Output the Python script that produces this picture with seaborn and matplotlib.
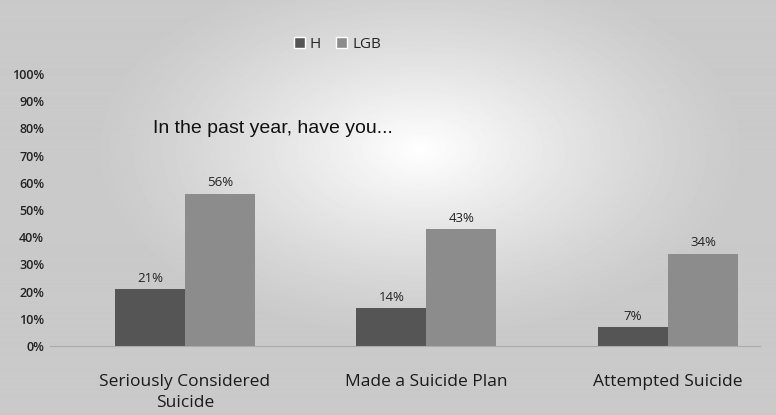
import numpy as np
import pandas as pd
import matplotlib
matplotlib.use("Agg")
import matplotlib.pyplot as plt
import seaborn as sns
from matplotlib.patches import Patch

categories = ["Seriously Considered\nSuicide", "Made a Suicide Plan", "Attempted Suicide"]
groups = ["H", "LGB"]
h_values = [21, 14, 7]
lgb_values = [56, 43, 34]
y_ticks = [0, 10, 20, 30, 40, 50, 60, 70, 80, 90, 100]
y_tick_labels = [f"{t}%" for t in y_ticks]

df = pd.DataFrame({
    "category": categories * 2,
    "group": ["H"] * 3 + ["LGB"] * 3,
    "value": h_values + lgb_values,
})

sns.set_theme(style="white")
plt.rcParams['font.family'] = ['Open Sans', 'DejaVu Sans']

fig = plt.figure(figsize=(7.76, 4.15), dpi=100)
fig.patch.set_facecolor("#c9c9c9")

# background glow
bg = fig.add_axes([0, 0, 1, 1], zorder=0)
yy, xx = np.mgrid[0:415, 0:776]
r = np.sqrt(((xx - 420) / 330.0) ** 2 + ((yy - 150) / 190.0) ** 2)
glow = np.clip(1 - r, 0, 1) ** 1.2
img = 0.79 + 0.21 * glow
bg.imshow(img, cmap="gray", vmin=0, vmax=1, aspect="auto", extent=[0, 776, 415, 0])
bg.axis("off")

ax = fig.add_axes([0.064, 0.166, 0.915, 0.656], zorder=1)
ax.patch.set_alpha(0)
sns.barplot(data=df, x="category", y="value", hue="group", hue_order=groups,
            palette={"H": "#555555", "LGB": "#8c8c8c"}, width=0.58,
            saturation=1, ax=ax, legend=False, linewidth=0, edgecolor="none")

for cont in ax.containers:
    ax.bar_label(cont, labels=[f"{int(round(v.get_height()))}%" for v in cont],
                 padding=3, fontsize=9.5, color="#222222")

ax.set_ylim(0, 100)
ax.set_xlim(-0.56, 2.38)
ax.set_yticks(y_ticks)
ax.set_yticklabels(y_tick_labels, fontsize=9, color="#222222", fontweight="semibold")
ax.tick_params(axis="x", labelsize=12.5, colors="#1a1a1a", length=0, pad=20)
for lbl in ax.get_xticklabels():
    lbl.set_linespacing(1.45)
    lbl.set_fontweight("medium")
ax.tick_params(axis="y", length=0, pad=4)
ax.set_xlabel("")
ax.set_ylabel("")
for s in ["top", "right", "left"]:
    ax.spines[s].set_visible(False)
ax.spines["bottom"].set_color("#aaaaaa")
ax.spines["bottom"].set_linewidth(0.8)

ax.text(0.145, 0.8, "In the past year, have you...", transform=ax.transAxes,
        fontsize=14, family=['Liberation Sans', 'DejaVu Sans'], color="#111111",
        va="center")

handles = [Patch(facecolor="#555555"), Patch(facecolor="#8c8c8c")]
fig.legend(handles, groups, loc="center", bbox_to_anchor=(0.435, 0.893), ncol=2,
           frameon=False, fontsize=11, handlelength=0.7, handleheight=0.7,
           handletextpad=0.35, columnspacing=1.0)

fig.savefig("out.png", dpi=100, facecolor=fig.get_facecolor())
